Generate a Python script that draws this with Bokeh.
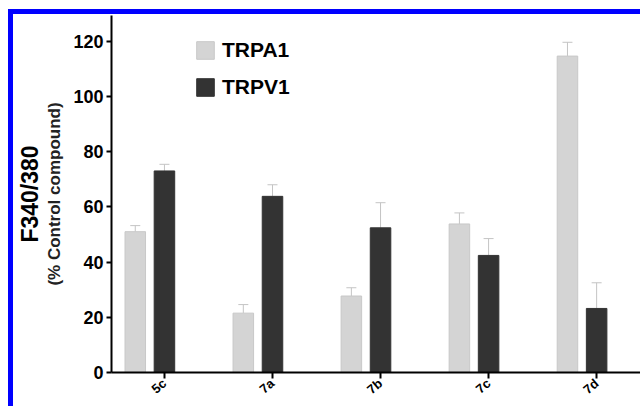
from bokeh.plotting import figure
from bokeh.models import (ColumnDataSource, Range1d, LinearAxis, FixedTicker,
                          Whisker, TeeHead, Legend, LegendItem, Div)
from bokeh.layouts import column, row
from bokeh.transform import dodge
from bokeh.embed import file_html
from bokeh.resources import INLINE

# ---- data ----
compounds = ["5c", "7a", "7b", "7c", "7d"]
trpa1 = [51.0, 21.5, 27.7, 53.8, 114.6]
trpa1_err = [2.2, 3.1, 3.0, 4.0, 5.0]
trpv1 = [73.0, 63.8, 52.4, 42.4, 23.2]
trpv1_err = [2.4, 4.2, 9.1, 6.1, 9.3]
y_ticks = [0, 20, 40, 60, 80, 100, 120]

idx = list(range(len(compounds)))
src = ColumnDataSource(dict(
    x=idx,
    a=trpa1, a_up=[v + e for v, e in zip(trpa1, trpa1_err)],
    v=trpv1, v_up=[v + e for v, e in zip(trpv1, trpv1_err)],
))

FONT = "Liberation Sans"
LIGHT = "#d4d4d4"
DARK = "#333333"
BLUE = "#0000ff"

p = figure(width=627, height=392, output_backend="svg", toolbar_location=None,
           x_range=Range1d(-0.49, 4.406), y_range=Range1d(0, 129.3),
           min_border_left=97, min_border_right=0, min_border_top=1,
           min_border_bottom=34)
p.xgrid.visible = False
p.ygrid.visible = False
p.outline_line_color = None
p.background_fill_color = "white"
p.border_fill_color = "white"

ra = p.vbar(x=dodge("x", -0.27), top="a", width=0.19, source=src,
            fill_color=LIGHT, line_color="#c8c8c8", line_width=1)
rv = p.vbar(x=dodge("x", 0.0), top="v", width=0.19, source=src,
            fill_color=DARK, line_color=DARK, line_width=1)

for col, up, off in (("a", "a_up", -0.27), ("v", "v_up", 0.0)):
    w = Whisker(base=dodge("x", off), lower=col, upper=up, source=src,
                line_color="#c4c4c4", line_width=1,
                upper_head=TeeHead(size=10, line_color="#c4c4c4", line_width=1),
                lower_head=None, level="underlay")
    p.add_layout(w)

# y axis
ya = p.yaxis[0]
ya.ticker = FixedTicker(ticks=y_ticks)
ya.minor_tick_line_color = None
ya.major_tick_in = 0
ya.major_tick_out = 5
ya.axis_line_width = 2
ya.major_tick_line_width = 2
ya.major_label_text_font = FONT
ya.major_label_text_font_style = "bold"
ya.major_label_text_font_size = "18px"
ya.major_label_text_color = "black"
ya.major_label_standoff = 3
ya.axis_label = "(% Control compound)"
ya.axis_label_text_font = FONT
ya.axis_label_text_font_style = "bold"
ya.axis_label_text_font_size = "17px"
ya.axis_label_text_color = "#222222"
ya.axis_label_standoff = 6

ya2 = LinearAxis(ticker=FixedTicker(ticks=[]), axis_line_color=None,
                 major_tick_out=0, major_tick_in=0, minor_tick_line_color=None,
                 major_label_text_font_size="0px",
                 axis_label="F340/380", axis_label_text_font=FONT,
                 axis_label_text_font_style="bold", axis_label_text_font_size="23px",
                 axis_label_text_color="black", axis_label_standoff=0)
p.add_layout(ya2, "left")

# x axis
xa = p.xaxis[0]
xa.ticker = FixedTicker(ticks=idx)
xa.major_label_overrides = {i: c for i, c in zip(idx, compounds)}
xa.minor_tick_line_color = None
xa.major_tick_in = 0
xa.major_tick_out = 6
xa.axis_line_width = 2
xa.major_tick_line_width = 2
xa.major_label_orientation = 0.7
xa.major_label_text_font = FONT
xa.major_label_text_font_style = "bold"
xa.major_label_text_font_size = "13px"
xa.major_label_text_color = "black"
xa.major_label_standoff = 3

legend = Legend(items=[LegendItem(label="TRPA1", renderers=[ra]),
                       LegendItem(label="TRPV1", renderers=[rv])],
                location=(83, 273), orientation="vertical",
                border_line_color=None, background_fill_alpha=0,
                padding=0, margin=0, spacing=13,
                glyph_width=22, glyph_height=22, label_height=22,
                label_standoff=6, label_text_font=FONT,
                label_text_font_style="bold", label_text_font_size="21px",
                label_text_color="black")
p.add_layout(legend)

top_space = Div(width=640, height=9, margin=0)
left_space = Div(width=8, height=397, margin=0)
top_bar = Div(width=632, height=5, margin=0, styles={"background-color": BLUE})
left_bar = Div(width=5, height=392, margin=0, styles={"background-color": BLUE})
inner = column(top_bar, row(left_bar, p, spacing=0), spacing=0)
layout = column(top_space, row(left_space, inner, spacing=0), spacing=0)

open("out.html", "w").write(file_html(layout, INLINE))
